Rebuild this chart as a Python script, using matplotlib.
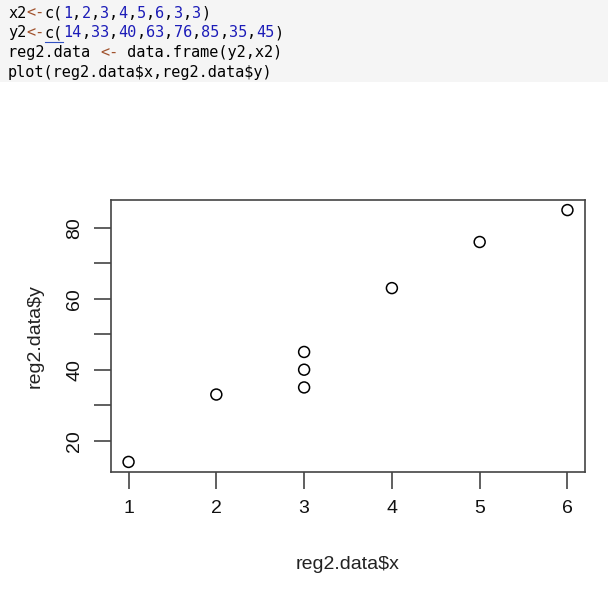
import matplotlib
matplotlib.use("Agg")
import matplotlib.pyplot as plt
from matplotlib.patches import Rectangle

x2 = [1, 2, 3, 4, 5, 6, 3, 3]
y2 = [14, 33, 40, 63, 76, 85, 35, 45]
xticks = [1, 2, 3, 4, 5, 6]
yticks = [20, 40, 60, 80]
yminor = [30, 50, 70]

W, H = 608, 591
fig = plt.figure(figsize=(W / 100, H / 100), dpi=100)
fig.patch.set_facecolor("white")

# code block background
fig.add_artist(Rectangle((0, 1 - 82 / H), 1, 82 / H, transform=fig.transFigure,
                         facecolor="#f5f5f5", edgecolor="none", zorder=0))

BLACK = "#000000"
BROWN = "#a0522d"
BLUE = "#1c1cb8"
mono = dict(family="DejaVu Sans Mono", fontsize=11.0, va="center", parse_math=False)

lines = [
    [("x2", BLACK), ("<-", BROWN), ("c(", BLACK), ("1", BLUE), (",", BLACK), ("2", BLUE), (",", BLACK),
     ("3", BLUE), (",", BLACK), ("4", BLUE), (",", BLACK), ("5", BLUE), (",", BLACK), ("6", BLUE),
     (",", BLACK), ("3", BLUE), (",", BLACK), ("3", BLUE), (")", BLACK)],
    [("y2", BLACK), ("<-", BROWN), ("c(", BLACK), ("14", BLUE), (",", BLACK), ("33", BLUE), (",", BLACK),
     ("40", BLUE), (",", BLACK), ("63", BLUE), (",", BLACK), ("76", BLUE), (",", BLACK), ("85", BLUE),
     (",", BLACK), ("35", BLUE), (",", BLACK), ("45", BLUE), (")", BLACK)],
    [("reg2.data ", BLACK), ("<-", BROWN), (" data.frame(y2,x2)", BLACK)],
    [("plot(reg2.data$x,reg2.data$y)", BLACK)],
]
charw = 11.0 * 0.602 * 100 / 72
y0 = 13
for i, segs in enumerate(lines):
    xpos = 8
    ypix = y0 + i * 19.7
    for s, c in segs:
        fig.text(xpos / W, 1 - ypix / H, s, color=c, **mono)
        xpos += len(s) * charw

# underline under "c(" on line 2
fig.add_artist(plt.Line2D([(8 + 4 * charw) / W, (8 + 6 * charw) / W],
                          [1 - 42 / H, 1 - 42 / H], transform=fig.transFigure,
                          color="#3050c0", lw=0.8))

left, right, top, bottom = 111, 585, 200, 472
ax = fig.add_axes([left / W, 1 - bottom / H, (right - left) / W, (bottom - top) / H])
ax.scatter(x2, y2, s=62, facecolors="none", edgecolors="black", linewidths=1.1, zorder=3)

ax.set_xlim(0.8, 6.2)
ax.set_ylim(11.16, 87.84)
ax.set_xticks(xticks)
ax.set_xticklabels([str(v) for v in xticks])
ax.set_yticks(yticks)
ax.set_yticklabels([str(v) for v in yticks], rotation=90, va="center")
ax.set_yticks(yminor, minor=True)

for sp in ax.spines.values():
    sp.set_color("#444444")
    sp.set_linewidth(1.2)

tick_kw = dict(direction="out", length=12, width=1.2, color="#444444",
               labelsize=14, labelcolor="#111111")
ax.tick_params(axis="x", which="major", pad=8, **tick_kw)
ax.tick_params(axis="y", which="major", pad=8, **tick_kw)
ax.tick_params(axis="y", which="minor", direction="out", length=12, width=1.2, color="#444444")
for lab in ax.get_xticklabels() + ax.get_yticklabels():
    lab.set_family("Liberation Sans")

ax.set_xlabel("reg2.data$x", fontsize=14, family="Liberation Sans", color="#222222", labelpad=28,
              parse_math=False)
ax.set_ylabel("reg2.data$y", fontsize=14, family="Liberation Sans", color="#222222", labelpad=16,
              parse_math=False)

fig.savefig("out.png", dpi=100)
